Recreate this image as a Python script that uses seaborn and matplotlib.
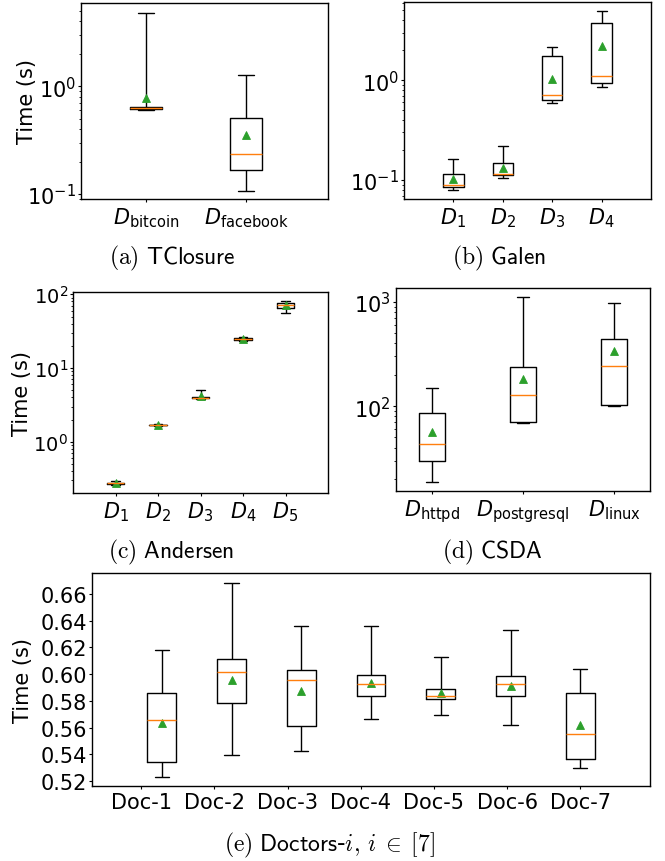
import numpy as np
import pandas as pd
import matplotlib
matplotlib.use('Agg')
import matplotlib.pyplot as plt
import seaborn as sns

# each row of *_stats is one box: min, q1, median, q3, max
tc_labels = [r'$D_{\mathrm{bitcoin}}$', r'$D_{\mathrm{facebook}}$']
tc_stats = [[0.60, 0.62, 0.63, 0.64, 4.8],
            [0.107, 0.167, 0.233, 0.505, 1.28]]
tc_means = [0.77, 0.35]

ga_labels = [r'$D_1$', r'$D_2$', r'$D_3$', r'$D_4$']
ga_stats = [[0.079, 0.086, 0.089, 0.115, 0.161],
            [0.105, 0.112, 0.115, 0.147, 0.219],
            [0.585, 0.641, 0.714, 1.75, 2.16],
            [0.859, 0.933, 1.10, 3.75, 4.94]]
ga_means = [0.1016, 0.131, 1.04, 2.21]

an_labels = [r'$D_1$', r'$D_2$', r'$D_3$', r'$D_4$', r'$D_5$']
an_stats = [[0.26, 0.27, 0.275, 0.28, 0.29],
            [1.64, 1.67, 1.69, 1.71, 1.74],
            [3.8, 3.9, 3.95, 4.05, 5.0],
            [23.5, 24.2, 24.7, 25.2, 26.0],
            [56.6, 66.2, 71.2, 76.4, 81.4]]
an_means = [0.275, 1.69, 4.2, 24.8, 71.6]

cs_labels = [r'$D_{\mathrm{httpd}}$', r'$D_{\mathrm{postgresql}}$', r'$D_{\mathrm{linux}}$']
cs_stats = [[18.8, 29.8, 43.7, 85.8, 150],
            [69, 70.2, 128.4, 240, 1107],
            [100, 102, 243, 437, 990]]
cs_means = [56.2, 184, 336]

doc_labels = ['Doc-1', 'Doc-2', 'Doc-3', 'Doc-4', 'Doc-5', 'Doc-6', 'Doc-7']
doc_stats = [[0.5232, 0.5342, 0.5654, 0.5857, 0.6183],
             [0.5392, 0.5783, 0.6015, 0.6112, 0.6685],
             [0.5424, 0.5611, 0.5957, 0.6032, 0.6363],
             [0.5663, 0.5833, 0.5927, 0.5995, 0.6363],
             [0.5696, 0.5813, 0.5838, 0.5888, 0.6127],
             [0.5622, 0.5834, 0.5926, 0.5988, 0.6330],
             [0.5300, 0.5362, 0.5550, 0.5857, 0.6036]]
doc_means = [0.5634, 0.596, 0.5875, 0.5935, 0.586, 0.5913, 0.5617]

sns.set_style('ticks', {'axes.edgecolor': 'black', 'xtick.color': 'black',
                        'ytick.color': 'black', 'text.color': 'black',
                        'axes.labelcolor': 'black'})
plt.rcParams['font.family'] = ['DejaVu Sans']
plt.rcParams['font.size'] = 15
plt.rcParams['axes.linewidth'] = 1.0
plt.rcParams['mathtext.fontset'] = 'dejavusans'

W, H = 665, 862
fig = plt.figure(figsize=(W / 100, H / 100), dpi=100)


def px_axes(left, top, right, bottom):
    return fig.add_axes([left / W, 1 - bottom / H, (right - left) / W, (bottom - top) / H])


def draw_panel(ax, labels, stats, means, width, log=True, ysize=15):
    df = pd.DataFrame({'label': np.repeat(labels, 5), 'time': np.concatenate(stats)})
    sns.boxplot(data=df, x='label', y='time', order=labels, ax=ax, fill=False,
                color='black', width=width, whis=(0, 100), linewidth=1,
                medianprops={'color': '#ff7f0e', 'linewidth': 1},
                log_scale=log)
    sns.pointplot(x=labels, y=means, order=labels, ax=ax, color='#2ca02c',
                  marker='^', linestyle='none', errorbar=None,
                  markersize=6, markeredgewidth=0.6)
    ax.set_xlabel('')
    ax.set_ylabel('')
    ax.tick_params(axis='x', labelsize=15, length=2.5, pad=2)
    ax.tick_params(axis='y', which='major', labelsize=ysize, length=2.5, pad=1)
    ax.tick_params(axis='y', which='minor', length=1.5)


def ylabel(ax, x):
    ax.set_ylabel('Time (s)', fontsize=15)
    ax.yaxis.set_label_coords(x, 0.5)


def caption(x, y, s):
    fig.text(x / W, 1 - y / H, s, ha='center', va='center', fontsize=17,
             math_fontfamily='cm')


# (a) TClosure
ax = px_axes(81, 4, 328, 200)
draw_panel(ax, tc_labels, tc_stats, tc_means, 0.32)
ax.set_xlim(-0.65, 1.82)
ax.set_ylim(0.09, 5.9)
ylabel(ax, -0.178)
caption(172, 258, r'$(\mathrm{a})\ \mathsf{TClosure}$')

# (b) Galen
ax = px_axes(404, 3, 651, 200)
draw_panel(ax, ga_labels, ga_stats, ga_means, 0.41)
ax.set_xlim(-1, 4)
ax.set_ylim(0.0646, 6.08)
caption(499, 258, r'$(\mathrm{b})\ \mathsf{Galen}$')

# (c) Andersen
ax = px_axes(73, 293, 328, 494)
draw_panel(ax, an_labels, an_stats, an_means, 0.41, ysize=14)
ax.set_xlim(-1, 5)
ax.set_ylim(0.2018, 107.5)
ylabel(ax, -0.16)
caption(171, 552, r'$(\mathrm{c})\ \mathsf{Andersen}$')

# (d) CSDA
ax = px_axes(396, 289, 650, 492)
draw_panel(ax, cs_labels, cs_stats, cs_means, 0.28)
ax.set_xlim(-0.395, 2.395)
ax.set_ylim(15.3, 1365)
caption(492, 552, r'$(\mathrm{d})\ \mathsf{CSDA}$')

# (e) Doctors
ax = px_axes(92, 574, 650, 787)
draw_panel(ax, doc_labels, doc_stats, doc_means, 0.41, log=False)
ax.set_xlim(-1, 7)
ax.set_ylim(0.5163, 0.6757)
ax.set_yticks(np.arange(0.52, 0.661, 0.02))
ax.yaxis.set_major_formatter(matplotlib.ticker.FormatStrFormatter('%.2f'))
# the tick row in the original is spaced a little wider than the boxes
ax.set_xticks(6 - (6 - np.arange(len(doc_labels))) * 1.049, labels=doc_labels)
ylabel(ax, -0.106)
caption(330, 845, r'$(\mathrm{e})\ \mathsf{Doctors}$-$i,\, i \;\in\; [7]$')

fig.savefig('out.png', dpi=100)
